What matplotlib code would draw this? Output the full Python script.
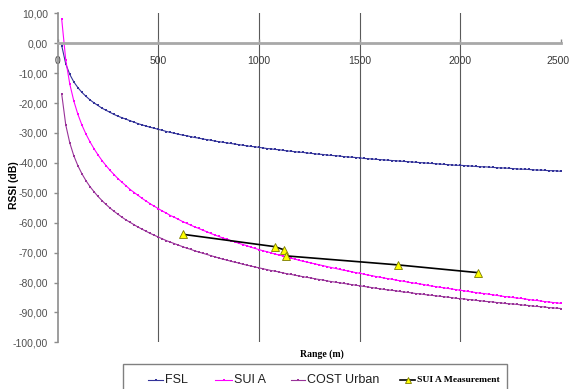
import matplotlib
matplotlib.use("Agg")
import matplotlib.pyplot as plt
from matplotlib.lines import Line2D
from matplotlib.patches import Rectangle
from matplotlib.transforms import ScaledTranslation

plt.rcParams["font.family"] = ["Liberation Sans", "DejaVu Sans"]

# distance grid of the model curves (m)
range_m = list(range(20, 2501, 20))

fsl = [
    -0.8, -6.9, -10.4, -12.9, -14.8, -16.4, -17.7, -18.9, -19.9, -20.8,
    -21.7, -22.4, -23.1, -23.8, -24.4, -24.9, -25.4, -25.9, -26.4, -26.9,
    -27.3, -27.7, -28.1, -28.4, -28.8, -29.1, -29.5, -29.8, -30.1, -30.4,
    -30.7, -30.9, -31.2, -31.5, -31.7, -32.0, -32.2, -32.4, -32.7, -32.9,
    -33.1, -33.3, -33.5, -33.7, -33.9, -34.1, -34.3, -34.5, -34.6, -34.8,
    -35.0, -35.2, -35.3, -35.5, -35.6, -35.8, -36.0, -36.1, -36.3, -36.4,
    -36.5, -36.7, -36.8, -37.0, -37.1, -37.2, -37.4, -37.5, -37.6, -37.7,
    -37.9, -38.0, -38.1, -38.2, -38.3, -38.5, -38.6, -38.7, -38.8, -38.9,
    -39.0, -39.1, -39.2, -39.3, -39.4, -39.5, -39.6, -39.7, -39.8, -39.9,
    -40.0, -40.1, -40.2, -40.3, -40.4, -40.5, -40.6, -40.7, -40.8, -40.8,
    -40.9, -41.0, -41.1, -41.2, -41.3, -41.3, -41.4, -41.5, -41.6, -41.7,
    -41.7, -41.8, -41.9, -42.0, -42.1, -42.1, -42.2, -42.3, -42.4, -42.4,
    -42.5, -42.6, -42.6, -42.7, -42.8,
]

sui_a = [
    8.0, -5.6, -13.6, -19.3, -23.7, -27.3, -30.3, -32.9, -35.2, -37.3,
    -39.2, -40.9, -42.5, -43.9, -45.3, -46.5, -47.7, -48.9, -49.9, -50.9,
    -51.9, -52.8, -53.7, -54.5, -55.3, -56.1, -56.8, -57.6, -58.2, -58.9,
    -59.6, -60.2, -60.8, -61.4, -61.9, -62.5, -63.0, -63.6, -64.1, -64.6,
    -65.1, -65.5, -66.0, -66.4, -66.9, -67.3, -67.7, -68.2, -68.6, -69.0,
    -69.4, -69.7, -70.1, -70.5, -70.8, -71.2, -71.5, -71.9, -72.2, -72.6,
    -72.9, -73.2, -73.5, -73.8, -74.1, -74.4, -74.7, -75.0, -75.3, -75.6,
    -75.9, -76.1, -76.4, -76.7, -76.9, -77.2, -77.5, -77.7, -78.0, -78.2,
    -78.5, -78.7, -78.9, -79.2, -79.4, -79.6, -79.9, -80.1, -80.3, -80.5,
    -80.7, -81.0, -81.2, -81.4, -81.6, -81.8, -82.0, -82.2, -82.4, -82.6,
    -82.8, -83.0, -83.2, -83.4, -83.6, -83.7, -83.9, -84.1, -84.3, -84.5,
    -84.7, -84.8, -85.0, -85.2, -85.3, -85.5, -85.7, -85.9, -86.0, -86.2,
    -86.4, -86.5, -86.7, -86.8, -87.0,
]

cost_urban = [
    -17.0, -27.3, -33.3, -37.6, -40.9, -43.6, -45.9, -47.9, -49.6, -51.2,
    -52.6, -53.9, -55.1, -56.2, -57.2, -58.2, -59.1, -59.9, -60.7, -61.5,
    -62.2, -62.9, -63.6, -64.2, -64.8, -65.4, -66.0, -66.5, -67.0, -67.5,
    -68.0, -68.5, -68.9, -69.4, -69.8, -70.2, -70.6, -71.0, -71.4, -71.8,
    -72.2, -72.5, -72.9, -73.2, -73.5, -73.9, -74.2, -74.5, -74.8, -75.1,
    -75.4, -75.7, -76.0, -76.2, -76.5, -76.8, -77.1, -77.3, -77.6, -77.8,
    -78.1, -78.3, -78.5, -78.8, -79.0, -79.2, -79.5, -79.7, -79.9, -80.1,
    -80.3, -80.5, -80.7, -80.9, -81.1, -81.3, -81.5, -81.7, -81.9, -82.1,
    -82.3, -82.5, -82.6, -82.8, -83.0, -83.2, -83.3, -83.5, -83.7, -83.8,
    -84.0, -84.2, -84.3, -84.5, -84.6, -84.8, -84.9, -85.1, -85.3, -85.4,
    -85.5, -85.7, -85.8, -86.0, -86.1, -86.3, -86.4, -86.5, -86.7, -86.8,
    -87.0, -87.1, -87.2, -87.3, -87.5, -87.6, -87.7, -87.9, -88.0, -88.1,
    -88.2, -88.4, -88.5, -88.6, -88.7,
]

# drive test points
meas_range = [624, 1077, 1126, 1135, 1688, 2087]
meas_rssi = [-63.9, -68.0, -69.1, -71.1, -74.1, -76.7]

x_ticks = [0, 500, 1000, 1500, 2000, 2500]
y_ticks = list(range(10, -101, -10))

C_FSL = "#333399"
C_SUI = "#ff00ff"
C_COST = "#993399"

W, H = 571, 389
fig = plt.figure(figsize=(W / 100, H / 100), dpi=100)
ax = fig.add_axes([57.7 / W, 1 - 342.3 / H, (561 - 57.7) / W, (342.3 - 13.4) / H])

curve_kw = dict(lw=0.8, marker="s", ms=1.8, mew=0)
ax.plot(range_m, fsl, color=C_FSL, **curve_kw)
ax.plot(range_m, sui_a, color=C_SUI, **curve_kw)
ax.plot(range_m, cost_urban, color=C_COST, **curve_kw)
ax.plot(meas_range, meas_rssi, color="black", lw=1.2, marker="^", ms=5.5,
        mfc="#ffff00", mec="#7a7a00", mew=0.6, zorder=5)

ax.set_xlim(0, 2500)
ax.set_ylim(-100, 10)

for x in x_ticks[1:-1]:
    ax.axvline(x, color="#5a5a5a", lw=0.8, zorder=0)

ax.spines["top"].set_visible(False)
ax.spines["right"].set_visible(False)
ax.spines["bottom"].set_position(("data", 0))
ax.spines["bottom"].set_color("#a8a8a8")
ax.spines["bottom"].set_linewidth(2.0)
ax.spines["left"].set_color("#8c8c8c")
ax.spines["left"].set_linewidth(1.2)

ax.set_xticks(x_ticks)
ax.set_xticklabels([str(x) for x in x_ticks])
ax.tick_params(axis="x", direction="in", length=3, width=1, color="#8c8c8c",
               pad=9, labelsize=7.5, labelcolor="#383838")
# last label sits against the right edge
last = ax.get_xticklabels()[-1]
last.set_transform(last.get_transform() + ScaledTranslation(-3 / 100, 0, fig.dpi_scale_trans))

ax.set_yticks(y_ticks)
ax.set_yticklabels([f"{v},00" for v in y_ticks])
ax.tick_params(axis="y", direction="out", length=3, width=1, color="#8c8c8c",
               pad=4, labelsize=7.5, labelcolor="#505050")

fig.text(14 / W, 1 - 185 / H, "RSSI (dB)", rotation=90, ha="center",
         va="center", fontsize=7.5, fontweight="bold")
fig.text(322 / W, 1 - 354 / H, "Range (m)", ha="center", va="center",
         fontsize=7, fontweight="bold", family="Liberation Serif")

# legend box, runs off the bottom edge
fig.add_artist(Rectangle((123 / W, -0.05), (507 - 123) / W, (389 - 364) / H + 0.05,
                         transform=fig.transFigure, fill=False,
                         ec="#808080", lw=1.0))

ly = 1 - 380 / H


def legend_entry(x0, x1, color, label, lw=0.8, marker="s", ms=1.8,
                 mfc=None, mec=None, text_kw=None):
    fig.add_artist(Line2D([x0 / W, x1 / W], [ly, ly], transform=fig.transFigure,
                          color=color, lw=lw))
    xm = (x0 + x1) / 2 / W
    fig.add_artist(Line2D([xm], [ly], transform=fig.transFigure, ls="none",
                          marker=marker, ms=ms, mfc=mfc or color,
                          mec=mec or color, mew=0.6 if mec else 0))
    kw = dict(fontsize=9, color="#202020")
    kw.update(text_kw or {})
    fig.text((x1 + 2) / W, ly, label, ha="left", va="center", **kw)


legend_entry(148, 163, C_FSL, "FSL")
legend_entry(215, 232, C_SUI, "SUI A")
legend_entry(291, 305, C_COST, "COST Urban")
legend_entry(400, 415, "black", "SUI A Measurement", lw=1.2, marker="^", ms=5,
             mfc="#ffff00", mec="#7a7a00",
             text_kw=dict(fontsize=6.8, fontweight="bold",
                          family="Liberation Serif", color="black"))

fig.savefig("out.png", dpi=100)
